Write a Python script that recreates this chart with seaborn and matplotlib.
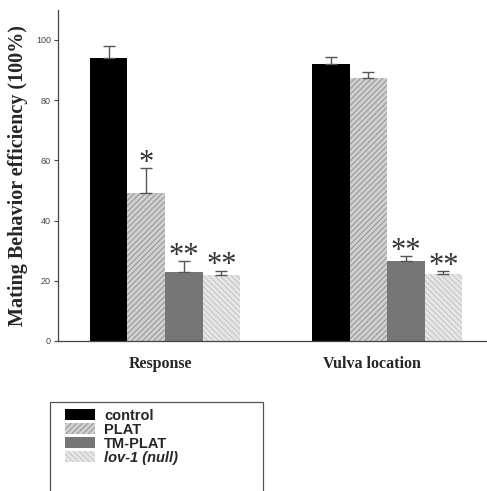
import numpy as np
import pandas as pd
import matplotlib
matplotlib.use("Agg")
import matplotlib.pyplot as plt
from matplotlib.patches import Rectangle, Patch
from matplotlib.transforms import ScaledTranslation
import seaborn as sns

categories = ["Response", "Vulva location"]
groups = ["control", "PLAT", "TM-PLAT", "lov-1 (null)"]
means = {
    "control": [94.0, 92.0],
    "PLAT": [49.0, 87.2],
    "TM-PLAT": [23.0, 26.5],
    "lov-1 (null)": [22.0, 22.4],
}
errors = {
    "control": [4.0, 2.3],
    "PLAT": [8.5, 2.3],
    "TM-PLAT": [3.5, 1.6],
    "lov-1 (null)": [1.3, 0.7],
}
stars = {
    "control": ["", ""],
    "PLAT": ["*", ""],
    "TM-PLAT": ["**", "**"],
    "lov-1 (null)": ["**", "**"],
}
yticks = [0, 20, 40, 60, 80, 100]

rows = []
for g in groups:
    for i, c in enumerate(categories):
        rows.append({"category": c, "group": g, "value": means[g][i]})
df = pd.DataFrame(rows)

sns.set_style("white")
plt.rcParams["hatch.linewidth"] = 0.6

fill = {"control": "#000000", "PLAT": "#cfcfcf", "TM-PLAT": "#767676", "lov-1 (null)": "#e6e6e6"}
hatch = {"control": "", "PLAT": "//////", "TM-PLAT": "", "lov-1 (null)": "\\\\\\\\\\\\"}
hcol = {"control": "#000000", "PLAT": "#8a8a8a", "TM-PLAT": "#767676", "lov-1 (null)": "#bdbdbd"}

fig = plt.figure(figsize=(4.87, 4.91), dpi=100)
ax = fig.add_axes([0.119, 0.3055, 0.881, 0.6745])

sns.barplot(data=df, x="category", y="value", hue="group", hue_order=groups,
            order=categories, palette=fill, width=0.676, gap=0, ax=ax,
            saturation=1, legend=False, linewidth=0)

for cont, g in zip(ax.containers, groups):
    for i, bar in enumerate(cont):
        bar.set_hatch(hatch[g])
        bar.set_edgecolor(hcol[g])
        bar.set_linewidth(0)
        xc = bar.get_x() + bar.get_width() / 2
        top = bar.get_height()
        ax.errorbar([xc], [top], yerr=[[0], [errors[g][i]]], fmt="none",
                    ecolor="#555555", elinewidth=1.0, capsize=4, capthick=1.0)
        if stars[g][i]:
            ax.text(xc, top + errors[g][i] - 3.2, stars[g][i], ha="center", va="bottom",
                    fontsize=22, family="Liberation Serif", color="#333333")

ax.set_xlim(-0.482, 1.45)
ax.set_ylim(0, 110)
ax.set_yticks(yticks)
ax.set_yticklabels([str(v) for v in yticks], fontsize=6.5, color="#444444",
                   family="Liberation Sans")
ax.tick_params(axis="y", left=True, length=3, width=0.8, color="#444444", pad=2)
ax.tick_params(axis="x", bottom=False, pad=7)
shifts = [-5, -15]
for lab, dx in zip(ax.get_xticklabels(), shifts):
    lab.set_fontsize(11.5)
    lab.set_fontweight("bold")
    lab.set_family("Liberation Serif")
    lab.set_transform(lab.get_transform() + ScaledTranslation(dx / 100, 0, fig.dpi_scale_trans))
ax.set_xlabel("")
ax.set_ylabel("Mating Behavior efficiency (100%)", fontsize=14.5, fontweight="bold",
              family="Liberation Serif", labelpad=6)
sns.despine(ax=ax, top=True, right=True)
for s in ["left", "bottom"]:
    ax.spines[s].set_color("#444444")
    ax.spines[s].set_linewidth(0.9)

# legend
handles = [Patch(facecolor=fill[g], edgecolor=hcol[g], hatch=hatch[g], linewidth=0) for g in groups]
leg = fig.legend(handles, ["control", "PLAT", "TM-PLAT", "lov-1 (null)"],
                 loc="upper left", bbox_to_anchor=(0.133, 0.168), frameon=False,
                 prop={"family": "Liberation Sans", "weight": "bold", "size": 10.5},
                 handlelength=2.1, handleheight=0.7, handletextpad=0.6,
                 labelspacing=0.0, borderaxespad=0, borderpad=0)
leg.get_texts()[3].set_style("italic")
fig.add_artist(Rectangle((0.103, -0.05), 0.437, 0.231, transform=fig.transFigure,
                         fill=False, edgecolor="#555555", linewidth=0.9))

fig.savefig("out.png", dpi=100)
